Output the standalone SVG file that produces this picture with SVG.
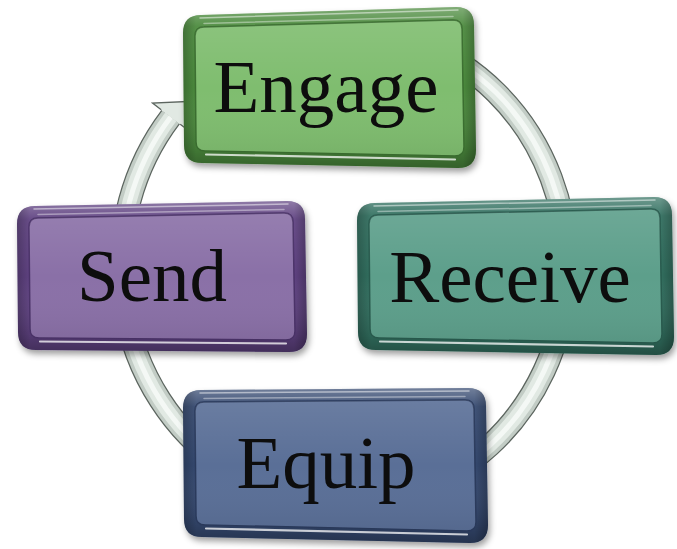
<svg xmlns="http://www.w3.org/2000/svg" width="677" height="549" viewBox="0 0 677 549">
<style>
.ring{fill:none}
.rim{filter:url(#sh)}
.shade{fill:url(#rimShade)}
.side{fill:url(#rimSide)}
.facegloss{fill:url(#faceShade)}
.hlb{fill:none;stroke:#ffffff;stroke-opacity:.75;stroke-width:2.2;stroke-linecap:round}
.hlt{fill:none;stroke:#ffffff;stroke-opacity:.5;stroke-width:1.5;stroke-linecap:round}
.hlf{fill:none;stroke:#ffffff;stroke-opacity:.4;stroke-width:1.5;stroke-linecap:round}
.lbl{font-family:"Liberation Serif","Times New Roman",serif;font-size:75px;fill:#0d0d0d;text-anchor:middle}
</style>
<defs>
<filter id="sh" x="-10%" y="-10%" width="125%" height="130%">
<feDropShadow dx="2" dy="4" stdDeviation="3" flood-color="#000" flood-opacity="0.38"/>
</filter>
<linearGradient id="rimShade" x1="0" y1="0" x2="0" y2="1">
<stop offset="0" stop-color="#fff" stop-opacity="0.3"/>
<stop offset="0.12" stop-color="#fff" stop-opacity="0.06"/>
<stop offset="0.5" stop-color="#fff" stop-opacity="0"/>
<stop offset="0.88" stop-color="#000" stop-opacity="0.12"/>
<stop offset="1" stop-color="#000" stop-opacity="0.3"/>
</linearGradient>
<linearGradient id="rimSide" x1="0" y1="0" x2="1" y2="0">
<stop offset="0" stop-color="#000" stop-opacity="0.22"/>
<stop offset="0.045" stop-color="#000" stop-opacity="0"/>
<stop offset="0.955" stop-color="#000" stop-opacity="0"/>
<stop offset="1" stop-color="#000" stop-opacity="0.25"/>
</linearGradient>
<linearGradient id="faceShade" x1="0" y1="0" x2="0" y2="1">
<stop offset="0" stop-color="#fff" stop-opacity="0.1"/>
<stop offset="0.5" stop-color="#fff" stop-opacity="0"/>
<stop offset="1" stop-color="#000" stop-opacity="0.06"/>
</linearGradient>
</defs>

<g id="connectors">
<path class="ring" d="M 420.3 43.3 A 223 237 0 1 1 170.7 117" stroke="#5c655f" stroke-width="23.5"/>
<path class="ring" d="M 420.3 43.3 A 223 237 0 1 1 170.7 117" stroke="#c2ccc5" stroke-width="21"/>
<path class="ring" d="M 420.3 43.3 A 223 237 0 1 1 170.7 117" stroke="#e1e9e3" stroke-width="14"/>
<path class="ring" d="M 420.3 43.3 A 223 237 0 1 1 170.7 117" stroke="#f4f8f5" stroke-width="5"/>
<polygon points="161.2,109.7 152.5,103 198,101 188.2,130.3 180.2,124.3" fill="#e1e9e3"/>
<polyline points="161.2,109.7 152.5,103 198,101 188.2,130.3 180.2,124.3" fill="none" stroke="#5c655f" stroke-width="1.3"/>
</g>

<g id="engage">
<path class="rim" d="M 201 15 L 456 7 Q 474 7 474 25 L 476 150 Q 476 168 458 168 L 202 163 Q 184 163 184 145 L 183 33 Q 183 15 201 15 Z" fill="#4c8a3e"/>
<path class="shade" d="M 201 15 L 456 7 Q 474 7 474 25 L 476 150 Q 476 168 458 168 L 202 163 Q 184 163 184 145 L 183 33 Q 183 15 201 15 Z"/>
<path class="side" d="M 201 15 L 456 7 Q 474 7 474 25 L 476 150 Q 476 168 458 168 L 202 163 Q 184 163 184 145 L 183 33 Q 183 15 201 15 Z"/>
<path d="M 204 27 L 453 20 Q 462 20 462 29 L 464 147 Q 464 156 455 156 L 205 151 Q 196 151 196 142 L 195 36 Q 195 27 204 27 Z" fill="#7fbd6f" stroke="#3a6e2f" stroke-width="1.5"/>
<path class="facegloss" d="M 204 27 L 453 20 Q 462 20 462 29 L 464 147 Q 464 156 455 156 L 205 151 Q 196 151 196 142 L 195 36 Q 195 27 204 27 Z"/>
<path class="hlb" d="M 206 154.5 L 455 159.5"/>
<path class="hlt" d="M 200 18 L 458 10"/>
<path class="hlf" d="M 204 23.5 L 453 16.5"/>
<text class="lbl" x="326" y="112">Engage</text>
</g>

<g id="send">
<path class="rim" d="M 35 206 L 287 201 Q 305 201 305 219 L 307 334 Q 307 352 289 352 L 36 350 Q 18 350 18 332 L 17 224 Q 17 206 35 206 Z" fill="#5e4381"/>
<path class="shade" d="M 35 206 L 287 201 Q 305 201 305 219 L 307 334 Q 307 352 289 352 L 36 350 Q 18 350 18 332 L 17 224 Q 17 206 35 206 Z"/>
<path class="side" d="M 35 206 L 287 201 Q 305 201 305 219 L 307 334 Q 307 352 289 352 L 36 350 Q 18 350 18 332 L 17 224 Q 17 206 35 206 Z"/>
<path d="M 38 218 L 284 213 Q 293 213 293 222 L 295 331 Q 295 340 286 340 L 39 338 Q 30 338 30 329 L 29 227 Q 29 218 38 218 Z" fill="#8a70a7" stroke="#4a3268" stroke-width="1.5"/>
<path class="facegloss" d="M 38 218 L 284 213 Q 293 213 293 222 L 295 331 Q 295 340 286 340 L 39 338 Q 30 338 30 329 L 29 227 Q 29 218 38 218 Z"/>
<path class="hlb" d="M 40 341.5 L 286 343.5"/>
<path class="hlt" d="M 34 209 L 288 204"/>
<path class="hlf" d="M 38 214.5 L 284 209.5"/>
<text class="lbl" x="152" y="301">Send</text>
</g>

<g id="receive">
<path class="rim" d="M 375 203 L 654 197 Q 672 197 672 215 L 674 337 Q 674 355 656 355 L 376 350 Q 358 350 358 332 L 357 221 Q 357 203 375 203 Z" fill="#327060"/>
<path class="shade" d="M 375 203 L 654 197 Q 672 197 672 215 L 674 337 Q 674 355 656 355 L 376 350 Q 358 350 358 332 L 357 221 Q 357 203 375 203 Z"/>
<path class="side" d="M 375 203 L 654 197 Q 672 197 672 215 L 674 337 Q 674 355 656 355 L 376 350 Q 358 350 358 332 L 357 221 Q 357 203 375 203 Z"/>
<path d="M 378 215 L 651 209 Q 660 209 660 218 L 662 334 Q 662 343 653 343 L 379 338 Q 370 338 370 329 L 369 224 Q 369 215 378 215 Z" fill="#5d9f8b" stroke="#285a4d" stroke-width="1.5"/>
<path class="facegloss" d="M 378 215 L 651 209 Q 660 209 660 218 L 662 334 Q 662 343 653 343 L 379 338 Q 370 338 370 329 L 369 224 Q 369 215 378 215 Z"/>
<path class="hlb" d="M 380 341.5 L 653 346.5"/>
<path class="hlt" d="M 374 206 L 655 200"/>
<path class="hlf" d="M 378 211.5 L 651 205.5"/>
<text class="lbl" x="510" y="302">Receive</text>
</g>

<g id="equip">
<path class="rim" d="M 201 390 L 468 388 Q 486 388 486 406 L 488 525 Q 488 543 470 543 L 202 537 Q 184 537 184 519 L 183 408 Q 183 390 201 390 Z" fill="#34486f"/>
<path class="shade" d="M 201 390 L 468 388 Q 486 388 486 406 L 488 525 Q 488 543 470 543 L 202 537 Q 184 537 184 519 L 183 408 Q 183 390 201 390 Z"/>
<path class="side" d="M 201 390 L 468 388 Q 486 388 486 406 L 488 525 Q 488 543 470 543 L 202 537 Q 184 537 184 519 L 183 408 Q 183 390 201 390 Z"/>
<path d="M 204 402 L 465 400 Q 474 400 474 409 L 476 522 Q 476 531 467 531 L 205 525 Q 196 525 196 516 L 195 411 Q 195 402 204 402 Z" fill="#5a6f97" stroke="#2a3a5c" stroke-width="1.5"/>
<path class="facegloss" d="M 204 402 L 465 400 Q 474 400 474 409 L 476 522 Q 476 531 467 531 L 205 525 Q 196 525 196 516 L 195 411 Q 195 402 204 402 Z"/>
<path class="hlb" d="M 206 528.5 L 467 534.5"/>
<path class="hlt" d="M 200 393 L 469 391"/>
<path class="hlf" d="M 204 398.5 L 465 396.5"/>
<text class="lbl" x="326" y="488">Equip</text>
</g>
</svg>
